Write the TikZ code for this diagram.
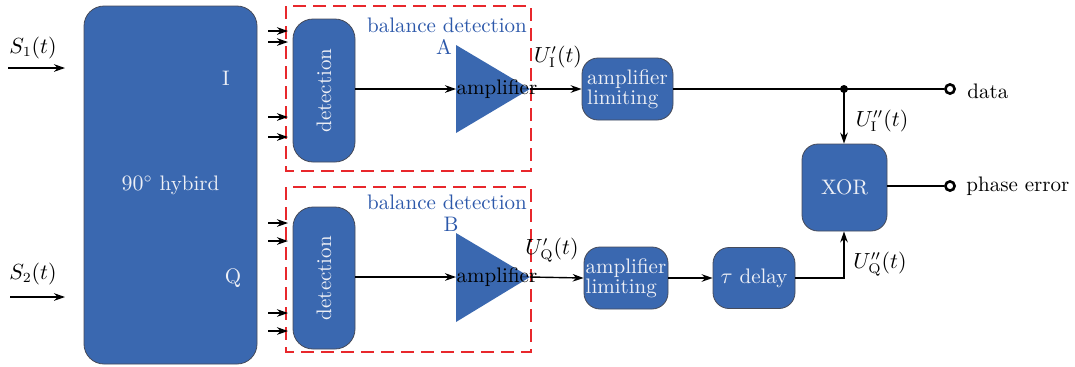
\documentclass[tikz,border=0pt]{standalone}
\usetikzlibrary{arrows.meta}
\definecolor{boxblue}{RGB}{58,104,176}
\definecolor{boxedge}{RGB}{70,75,90}
\definecolor{boxtext}{RGB}{238,240,246}
\definecolor{lblblue}{RGB}{44,88,170}
\definecolor{dashred}{RGB}{232,40,44}
\tikzset{
  every node/.style={font=\fontsize{10.5}{12}\selectfont},
  blkbox/.style={draw=boxedge, line width=0.4pt, fill=boxblue, text=boxtext, inner sep=0pt, align=center},
  conn/.style={line width=0.7pt, -{Stealth[length=5.5pt,width=3.8pt]}},
  wire/.style={line width=0.7pt},
  redbox/.style={draw=dashred, line width=1.1pt, dash pattern=on 6.5pt off 3.5pt},
  portc/.style={circle, draw=black, line width=1.3pt, fill=white, inner sep=0pt, minimum size=4.6pt},
  bluelbl/.style={text=lblblue, inner sep=0pt},
  plainlbl/.style={inner sep=0pt}
}
\begin{document}
\begin{tikzpicture}[x=0.5pt,y=-0.5pt]
\useasboundingbox (0,0) rectangle (1075,366);
% hybrid
\node[blkbox, minimum width=86.5pt, minimum height=179pt, rounded corners=10pt] (hyb) at (170.5,185) {$90^\circ$ hybird};
\node[plainlbl, text=boxtext] (ilbl) at (226,78) {I};
\node[plainlbl, text=boxtext] (qlbl) at (233,278) {Q};
% inputs
\node[plainlbl] (s1) at (33,48) {$S_1(t)$};
\node[plainlbl] (s2) at (33,274) {$S_2(t)$};
\coordinate (s1a) at (8,68); \coordinate (s1b) at (65,68);
\coordinate (s2a) at (10,297); \coordinate (s2b) at (65,297);
\draw[conn] (s1a) -- (s1b);
\draw[conn] (s2a) -- (s2b);
% red dashed boxes
\draw[redbox] (286,6) rectangle (531,171);
\draw[redbox] (286,187) rectangle (531,352);
\node[bluelbl] (bdA) at (447,25) {balance detection};
\node[bluelbl] (bdAl) at (444,47) {A};
\node[bluelbl] (bdB) at (447,202) {balance detection};
\node[bluelbl] (bdBl) at (451,224) {B};
% detection
\node[blkbox, minimum width=31pt, minimum height=71.5pt, rounded corners=10pt] (detA) at (324,90.5) {\rotatebox{90}{detection}};
\node[blkbox, minimum width=31pt, minimum height=71pt, rounded corners=10pt] (detB) at (324,278) {\rotatebox{90}{detection}};
% input small arrows
\foreach \yy/\nm in {31/a1,42/a2,117/a3,137/a4,223/b1,241/b2,313/b3,331/b4}{
  \coordinate (\nm s) at (268,\yy);
  \coordinate (\nm e) at (288,\yy);
  \draw[conn] (\nm s) -- (\nm e);
}
% amplifiers
\fill[boxblue] (456,45) -- (530,89) -- (456,133) -- cycle;
\fill[boxblue] (456,233) -- (530,277) -- (456,322) -- cycle;
\coordinate (ampAin) at (456,89); \coordinate (ampAout) at (530,89);
\coordinate (ampBin) at (456,277); \coordinate (ampBout) at (530,277);
\draw[conn] (detA.east |- ampAin) -- (ampAin);
\draw[conn] (detB.east |- ampBin) -- (ampBin);
% limiting amplifiers
\node[blkbox, minimum width=45.5pt, minimum height=31pt, rounded corners=8pt, align=left] (limA) at (627.5,89) {amplifier\\[-2pt]limiting};
\node[blkbox, minimum width=42pt, minimum height=31pt, rounded corners=8pt, align=left] (limB) at (626,278) {amplifier\\[-2pt]limiting};
\node[blkbox, minimum width=41pt, minimum height=30.5pt, rounded corners=8pt] (dly) at (754,278) {$\tau$ delay};
\node[blkbox, minimum width=42.5pt, minimum height=43.5pt, rounded corners=8pt] (xor) at (844.5,187.5) {XOR};
\draw[conn] (ampAout) -- (limA.west);
\draw[conn] (ampBout) -- (limB.west);
\node[plainlbl] (ampAtxt) at (497,89) {amplifier};
\node[plainlbl] (ampBtxt) at (497,277) {amplifier};
\node[plainlbl] (uIp) at (558,57) {$U'_{\mathrm{I}}(t)$};
\node[plainlbl] (uQp) at (552,250) {$U'_{\mathrm{Q}}(t)$};
% outputs
\node[portc] (dataC) at (950,89) {};
\node[portc] (phC) at (950,186) {};
\node[plainlbl, anchor=west] (datat) at (967,91) {data};
\node[plainlbl, anchor=west] (pht) at (966,186) {phase error};
\coordinate (jn) at (844,89);
\draw[wire] (limA.east) -- (jn) -- (dataC.west);
\fill (jn) circle (2pt);
\draw[conn] (jn) -- (xor.north -| jn);
\draw[wire] (xor.east |- phC) -- (phC.west);
\draw[conn] (limB.east) -- (dly.west);
\draw[conn] (dly.east) -| (xor.south -| jn);
\node[plainlbl] (uIpp) at (882,121) {$U''_{\mathrm{I}}(t)$};
\node[plainlbl] (uQpp) at (880,264) {$U''_{\mathrm{Q}}(t)$};
\end{tikzpicture}
\end{document}
